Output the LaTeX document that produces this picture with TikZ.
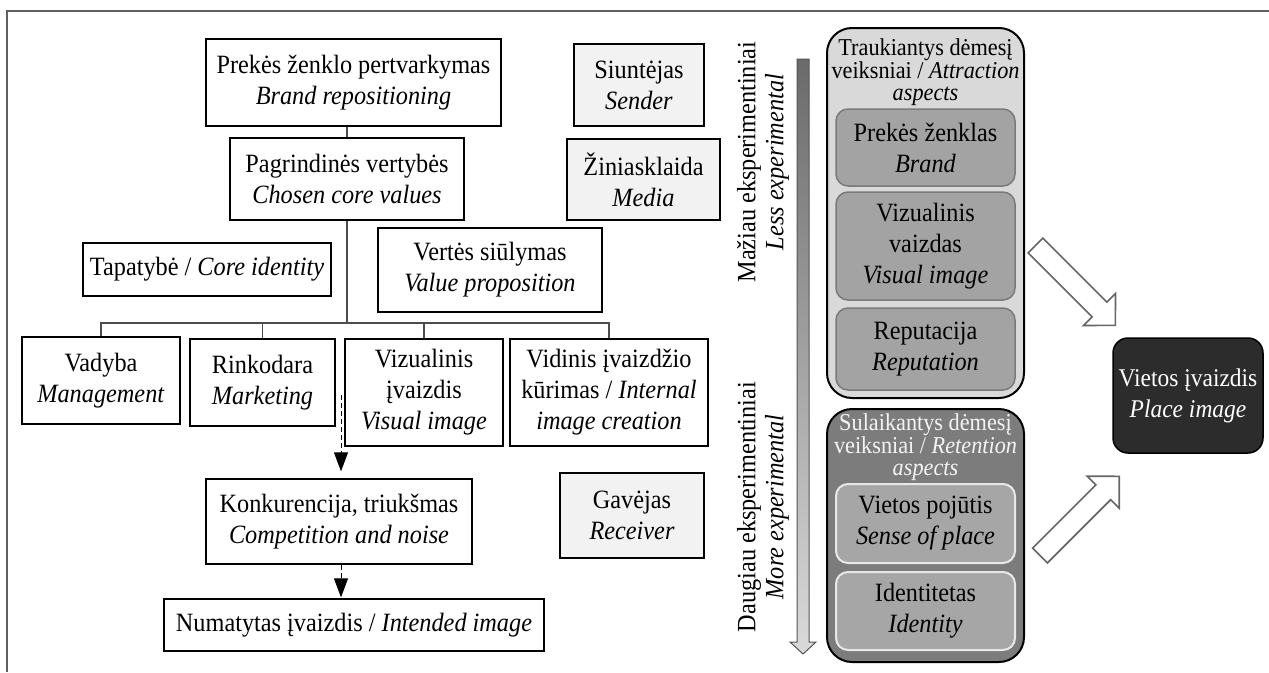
\documentclass[tikz,border=0pt]{standalone}
\usepackage{fontspec}
\setmainfont[FakeStretch=0.92]{Liberation Serif}
\usetikzlibrary{arrows.meta,calc}
\definecolor{lightbox}{HTML}{F2F2F2}
\definecolor{linegray}{HTML}{4D4D4D}
\definecolor{framegray}{HTML}{606060}
\definecolor{attrfill}{HTML}{D9D9D9}
\definecolor{attrin}{HTML}{A3A3A3}
\definecolor{attrline}{HTML}{7A7A7A}
\definecolor{retfill}{HTML}{7C7C7C}
\definecolor{retin}{HTML}{A6A6A6}
\definecolor{retline}{HTML}{E8E8E8}
\definecolor{placefill}{HTML}{2C2C2C}
\definecolor{bartop}{HTML}{6A6A6A}
\definecolor{barbot}{HTML}{DADADA}
\definecolor{bargray}{HTML}{555555}
\definecolor{arrowgray}{HTML}{666666}
\definecolor{rettext}{HTML}{F4F4F4}
\begin{document}
\begin{tikzpicture}[x=1pt,y=-1pt,
  txt/.style={font=\fontsize{26.4}{31}\selectfont, align=center, inner sep=0pt},
  plainbox/.style={txt, draw=black, line width=1.3pt, fill=white},
  graybox/.style={plainbox, fill=lightbox},
  conn/.style={draw=linegray, line width=1.3pt},
  dasharrow/.style={draw=black, line width=1pt, dash pattern=on 5pt off 3pt, -{Triangle[length=19pt,width=14pt]}},
  outerbox/.style={draw=black, line width=2pt, rounded corners=25pt, minimum width=197pt, inner sep=0pt},
  inattr/.style={txt, draw=attrline, fill=attrin, line width=1.5pt, rounded corners=12pt, minimum width=179pt},
  inret/.style={txt, draw=retline, fill=retin, line width=2pt, rounded corners=12pt, minimum width=179pt},
  titletxt/.style={font=\fontsize{24.2}{22}\selectfont, align=center, inner sep=0pt},
  sidetxt/.style={font=\fontsize{26.4}{28}\selectfont, align=center, inner sep=0pt, rotate=90},
  hollow/.style={draw=arrowgray, fill=white, line width=1.6pt, line join=miter},
]
\useasboundingbox (0,0) rectangle (1269,672);
% frame
\draw[draw=framegray, line width=2pt] (7,672) -- (7,11) -- (1269,11);

% left tree
\node[plainbox, minimum width=295pt, minimum height=87pt] (brand) at (353.5,82.5) {Prekės ženklo pertvarkymas\\\textit{Brand repositioning}};
\node[plainbox, minimum width=234pt, minimum height=82pt] (core) at (347,179) {Pagrindinės vertybės\\\textit{Chosen core values}};
\node[graybox, minimum width=130pt, minimum height=82pt] (sender) at (639,85) {Siuntėjas\\\textit{Sender}};
\node[graybox, minimum width=153pt, minimum height=81pt] (media) at (643.5,179.5) {Žiniasklaida\\\textit{Media}};
\node[plainbox, minimum width=248pt, minimum height=53pt] (ident) at (207,269.5) {Tapatybė / \textit{Core identity}};
\node[plainbox, minimum width=224pt, minimum height=84pt] (value) at (490,270) {Vertės siūlymas\\\textit{Value proposition}};
\node[plainbox, minimum width=158pt, minimum height=87pt] (mgmt) at (101,380.5) {Vadyba\\\textit{Management}};
\node[plainbox, minimum width=145pt, minimum height=87pt] (mkt) at (262.5,382.5) {Rinkodara\\\textit{Marketing}};
\node[plainbox, minimum width=158pt, minimum height=107pt] (vis) at (424,392.5) {Vizualinis\\įvaizdis\\\textit{Visual image}};
\node[plainbox, minimum width=198pt, minimum height=107pt] (intl) at (609,392.5) {Vidinis įvaizdžio\\kūrimas / \textit{Internal}\\\textit{image creation}};
\node[plainbox, minimum width=266pt, minimum height=85pt] (comp) at (339,521.5) {Konkurencija, triukšmas\\\textit{Competition and noise}};
\node[plainbox, minimum width=380pt, minimum height=52pt] (intended) at (354,625) {Numatytas įvaizdis / \textit{Intended image}};
\node[graybox, minimum width=144pt, minimum height=85pt] (recv) at (632,515.5) {Gavėjas\\\textit{Receiver}};

\coordinate (bus) at (347,323);
\draw[conn] (core.north) -- (core.north |- brand.south);
\draw[conn] (core.south) -- (bus);
\draw[conn] (mgmt.north) -- (mgmt.north |- bus) -- (intl.north |- bus) -- (intl.north);
\draw[conn] (mkt.north) -- (mkt.north |- bus);
\draw[conn] (vis.north) -- (vis.north |- bus);

\coordinate (d1) at (341,395);
\draw[dasharrow, shorten >=7pt] (d1) -- (d1 |- comp.north);
\draw[dasharrow, shorten >=1pt] (comp.south -| d1) -- (d1 |- intended.north);

% side labels and gradient bar
\node[sidetxt] (less) at (763,162) {Mažiau eksperimentiniai\\\textit{Less experimental}};
\node[sidetxt] (more) at (763,507) {Daugiau eksperimentiniai\\\textit{More experimental}};
\path[draw=bargray, line width=1pt, top color=bartop, bottom color=barbot]
  (797,59) -- (809,59) -- (809,642) -- (816,642) -- (803,654) -- (790,642) -- (797,642) -- cycle;

% attraction group
\node[outerbox, fill=attrfill, minimum height=370pt] (attr) at (925.5,213) {};
\node[titletxt] (attrT) at (925.5,72) {Traukiantys dėmesį\\veiksniai / \textit{Attraction}\\\textit{aspects}};
\node[inattr, minimum height=77pt] (brand2) at (925.5,147.5) {Prekės ženklas\\\textit{Brand}};
\node[inattr, minimum height=108pt] (vis2) at (925.5,246) {Vizualinis\\vaizdas\\\textit{Visual image}};
\node[inattr, minimum height=82pt] (rep) at (925.5,349) {Reputacija\\\textit{Reputation}};

% retention group
\node[outerbox, fill=retfill, minimum height=253pt] (ret) at (925.5,535.5) {};
\node[titletxt, text=rettext] (retT) at (925.5,447) {Sulaikantys dėmesį\\veiksniai / \textit{Retention}\\\textit{aspects}};
\node[inret, minimum height=79pt] (sense) at (925.5,523.5) {Vietos pojūtis\\\textit{Sense of place}};
\node[inret, minimum height=78pt] (identity) at (925.5,611) {Identitetas\\\textit{Identity}};

% place image
\node[txt, font=\fontsize{25.5}{31}\selectfont, draw=black, line width=1.5pt, fill=placefill, text=white, rounded corners=15pt, minimum width=150pt, minimum height=115pt] (place) at (1188,395.5) {Vietos įvaizdis\\\textit{Place image}};

% hollow arrows
\begin{scope}[shift={(1035.5,245.5)}, rotate=-45]
\draw[hollow] (0,-10.5) -- (90.5,-10.5) -- (90.5,-22.6) -- (113,0) -- (90.5,22.6) -- (90.5,10.5) -- (0,10.5) -- cycle;
\end{scope}
\begin{scope}[shift={(1040,555.5)}, rotate=45]
\draw[hollow] (0,-10.5) -- (89.5,-10.5) -- (89.5,-22.6) -- (112,0) -- (89.5,22.6) -- (89.5,10.5) -- (0,10.5) -- cycle;
\end{scope}
\end{tikzpicture}
\end{document}
